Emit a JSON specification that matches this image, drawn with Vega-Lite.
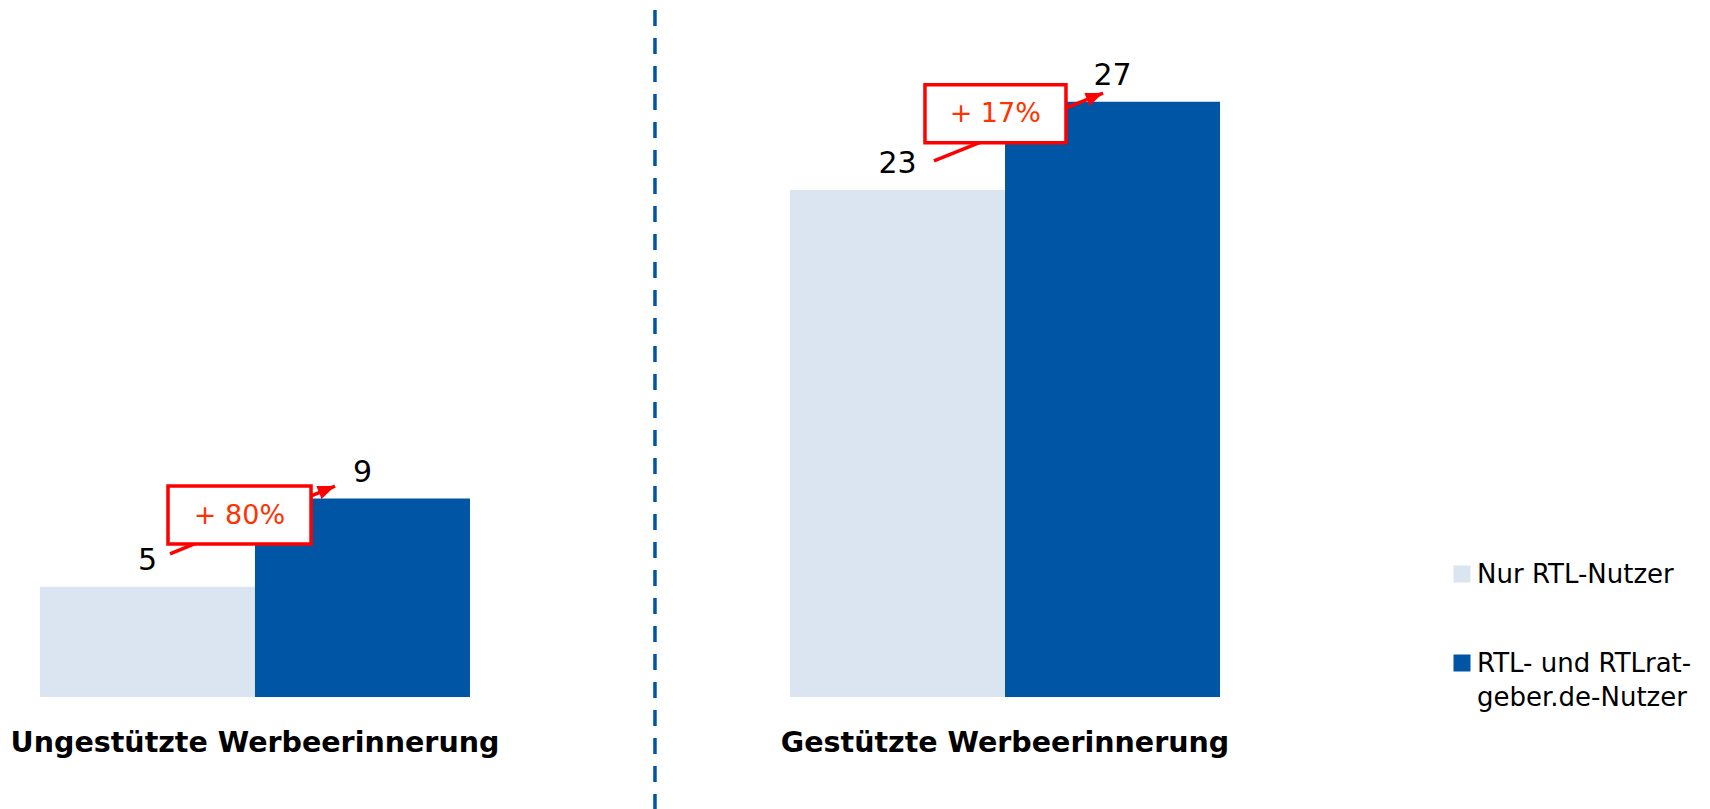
{
  "$schema": "https://vega.github.io/schema/vega-lite/v6.json",
  "width": 1260,
  "height": 697,
  "padding": 0,
  "background": "white",
  "config": {"view": {"stroke": null}, "font": "DejaVu Sans"},
  "datasets": {
    "bars": [
      {"gruppe": "Ungestützte Werbeerinnerung", "nutzer": "Nur RTL-Nutzer", "wert": 5},
      {"gruppe": "Ungestützte Werbeerinnerung", "nutzer": "RTL- und RTLratgeber.de-Nutzer", "wert": 9},
      {"gruppe": "Gestützte Werbeerinnerung", "nutzer": "Nur RTL-Nutzer", "wert": 23},
      {"gruppe": "Gestützte Werbeerinnerung", "nutzer": "RTL- und RTLratgeber.de-Nutzer", "wert": 27}
    ],
    "annotations": [
      {"gruppe": "Ungestützte Werbeerinnerung", "label": "+ 80%", "pfeil_x": -0.1133, "pfeil_y": 6.49, "pfeil_x2": 0.1067, "pfeil_y2": 9.57, "box_x": -0.116, "box_x2": 0.0747, "box_y": 6.94, "box_y2": 9.57, "text_x": -0.0207, "text_y": 8.2},
      {"gruppe": "Gestützte Werbeerinnerung", "label": "+ 17%", "pfeil_x": 0.9053, "pfeil_y": 24.32, "pfeil_x2": 1.1307, "pfeil_y2": 27.4, "box_x": 0.8933, "box_x2": 1.0813, "box_y": 25.14, "box_y2": 27.77, "text_x": 0.987, "text_y": 26.45}
    ],
    "trenner": [{"pos": 0.5333, "oben": 31.17, "unten": -5.2}]
  },
  "layer": [
    {
      "data": {"name": "bars"},
      "encoding": {
        "x": {
          "field": "gruppe", "type": "nominal",
          "sort": ["Ungestützte Werbeerinnerung", "Gestützte Werbeerinnerung"],
          "scale": {"paddingInner": 0.4267, "paddingOuter": 0.0533},
          "axis": {"title": null, "domain": false, "ticks": false, "tickSize": 0, "labelPadding": 31, "labelAngle": 0, "labelFont": "DejaVu Sans", "labelFontSize": 28.5, "labelFontWeight": "bold", "labelColor": "black", "labelLimit": 800}
        },
        "xOffset": {
          "field": "nutzer", "type": "nominal",
          "sort": ["Nur RTL-Nutzer", "RTL- und RTLratgeber.de-Nutzer"],
          "scale": {"paddingInner": 0, "paddingOuter": 0}
        },
        "y": {"field": "wert", "type": "quantitative", "scale": {"domain": [0, 31.62], "nice": false}, "axis": null}
      },
      "layer": [
        {
          "mark": {"type": "bar"},
          "encoding": {
            "color": {
              "field": "nutzer", "type": "nominal",
              "scale": {"domain": ["Nur RTL-Nutzer", "RTL- und RTLratgeber.de-Nutzer"], "range": ["#DAE5F1", "#0055A5"]},
              "legend": {
                "title": null, "orient": "none", "legendX": 1449, "legendY": 561, "padding": 0,
                "symbolType": "square", "symbolSize": 289, "symbolStrokeWidth": 0, "symbolOpacity": 1,
                "labelFont": "DejaVu Sans", "labelFontSize": 26, "labelColor": "black", "labelLimit": 400, "labelOffset": 2,
                "rowPadding": 62, "labelBaseline": "alphabetic",
                "labelExpr": "datum.label == 'RTL- und RTLratgeber.de-Nutzer' ? ['RTL- und RTLrat-', 'geber.de-Nutzer'] : datum.label",
                "encode": {"labels": {"update": {"dy": {"value": 9}, "lineHeight": {"value": 34}}}}
              }
            }
          }
        },
        {
          "mark": {"type": "text", "baseline": "alphabetic", "dy": -17, "fontSize": 30, "color": "black", "font": "DejaVu Sans"},
          "encoding": {"text": {"field": "wert", "type": "quantitative"}}
        }
      ]
    },
    {
      "layer": [
        {
          "data": {"name": "trenner"},
          "mark": {"type": "rule", "color": "#0055A5", "strokeWidth": 3.5, "strokeDash": [16, 12]},
          "encoding": {
            "x": {"field": "pos", "type": "quantitative", "scale": {"domain": [-0.34, 1.34], "nice": false, "zero": false}, "axis": null},
            "y": {"field": "oben", "type": "quantitative", "scale": {"domain": [0, 31.62], "nice": false}, "axis": null},
            "y2": {"field": "unten"}
          }
        },
        {
          "data": {"name": "annotations"},
          "mark": {"type": "rule", "color": "#FF0000", "strokeWidth": 3.5},
          "encoding": {
            "x": {"field": "pfeil_x", "type": "quantitative", "scale": {"domain": [-0.34, 1.34], "nice": false, "zero": false}, "axis": null},
            "x2": {"field": "pfeil_x2"},
            "y": {"field": "pfeil_y", "type": "quantitative", "scale": {"domain": [0, 31.62], "nice": false}, "axis": null},
            "y2": {"field": "pfeil_y2"}
          }
        },
        {
          "data": {"name": "annotations"},
          "mark": {"type": "rect", "fill": "white", "stroke": "#FF0000", "strokeWidth": 3.5},
          "encoding": {
            "x": {"field": "box_x", "type": "quantitative", "scale": {"domain": [-0.34, 1.34], "nice": false, "zero": false}, "axis": null},
            "x2": {"field": "box_x2"},
            "y": {"field": "box_y", "type": "quantitative", "scale": {"domain": [0, 31.62], "nice": false}, "axis": null},
            "y2": {"field": "box_y2"}
          }
        },
        {
          "data": {"name": "annotations"},
          "mark": {"type": "text", "fontSize": 27, "color": "#FF3300", "font": "DejaVu Sans", "baseline": "middle", "align": "center"},
          "encoding": {
            "x": {"field": "text_x", "type": "quantitative", "scale": {"domain": [-0.34, 1.34], "nice": false, "zero": false}, "axis": null},
            "y": {"field": "text_y", "type": "quantitative", "scale": {"domain": [0, 31.62], "nice": false}, "axis": null},
            "text": {"field": "label", "type": "nominal"}
          }
        },
        {
          "data": {"name": "annotations"},
          "mark": {"type": "point", "shape": "M0,0L-2,-0.8L-2,0.8Z", "angle": -22, "size": 300, "filled": true, "color": "#FF0000", "opacity": 1, "strokeWidth": 0},
          "encoding": {
            "x": {"field": "pfeil_x2", "type": "quantitative", "scale": {"domain": [-0.34, 1.34], "nice": false, "zero": false}, "axis": null},
            "y": {"field": "pfeil_y2", "type": "quantitative", "scale": {"domain": [0, 31.62], "nice": false}, "axis": null}
          }
        }
      ]
    }
  ],
  "resolve": {"scale": {"x": "independent"}}
}
